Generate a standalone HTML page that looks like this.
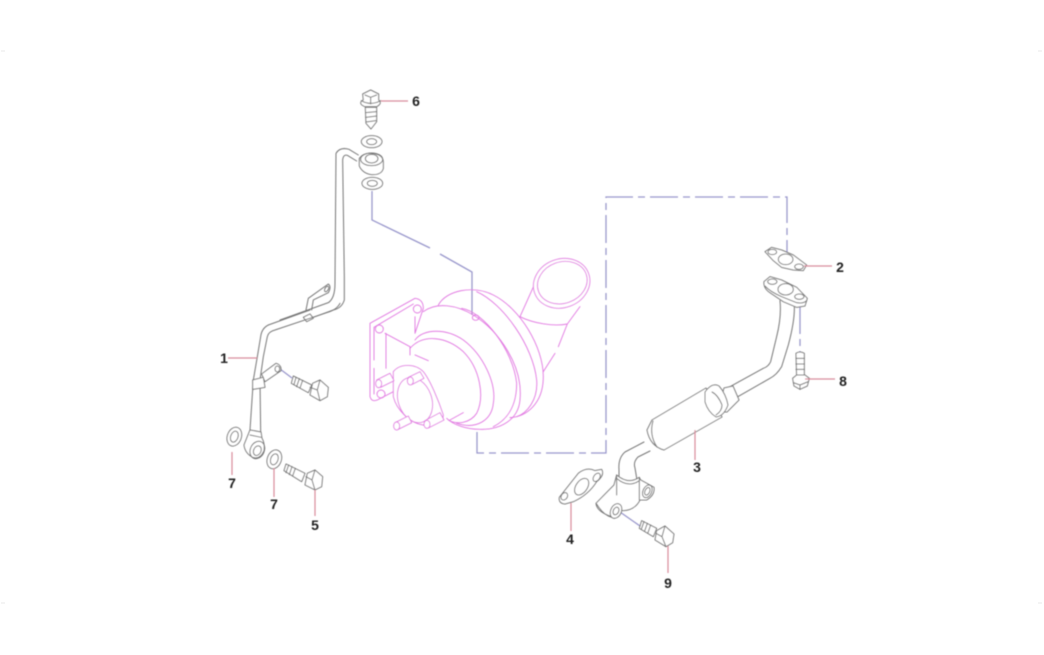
<!DOCTYPE html>
<html><head><meta charset="utf-8"><style>
html,body{margin:0;padding:0;background:#fff}
svg{display:block}
.k{fill:none;stroke:#777;stroke-width:3;stroke-linejoin:round;stroke-linecap:round}
.f{fill:#fff;stroke:#777;stroke-width:3;stroke-linejoin:round}
.g{fill:none;stroke:#777;stroke-width:1;stroke-linejoin:round;stroke-linecap:round}
.gf{fill:#fff;stroke:#777;stroke-width:1;stroke-linejoin:round}
.m{fill:none;stroke:#e27be2;stroke-width:2.8;stroke-linecap:round;stroke-linejoin:round}
.mf{fill:#fff;stroke:#e27be2;stroke-width:2.8;stroke-linejoin:round}
.r{fill:none;stroke:#d98c9c;stroke-width:1.2}
.b{fill:none;stroke:#9a98cc;stroke-width:1.3}
.d{stroke-dasharray:28 5 7 5}
text{font:bold 14px "Liberation Sans",sans-serif;fill:#222;text-anchor:middle}
</style></head><body>
<svg width="1044" height="655" viewBox="0 0 1044 655" xmlns="http://www.w3.org/2000/svg">
<defs><filter id="bl" x="-5%" y="-5%" width="110%" height="110%"><feGaussianBlur stdDeviation="0.45"/></filter></defs>
<rect width="1044" height="655" fill="#fff"/>
<path d="M1 51H5M1 603H5M1038 603H1042M1038 51H1042" stroke="#e8e8e8" stroke-width="1"/>
<g filter="url(#bl)">
<!-- blue centre lines -->
<path class="b" d="M372 191V220L430 248M440 254L472 272V315"/>
<path class="b d" d="M477 432V453H606V197H787V256"/>
<path class="b d" d="M800 306V352"/>
<path class="b" d="M280 369L292 378M620 512L640 526"/>

<!-- turbo -->
<g transform="translate(360,240) scale(.3333)">
<path class="m" d="M30 250L165 175Q190 178 190 205L165 280M30 250V470Q35 487 52 480L100 455M42 262L160 192M42 262V360M42 385V462M78 280V385M75 280L150 320V345M165 230V280"/>
<circle class="m" cx="172" cy="207" r="12"/><circle class="m" cx="58" cy="267" r="12"/><circle class="m" cx="63" cy="462" r="12"/>
<path class="m" d="M235 195C260 150 340 135 400 165C480 205 550 320 550 410C550 490 500 530 450 533"/>
<path class="m" d="M350 155C430 190 520 320 530 420C535 480 500 520 470 530"/>
<path class="m" d="M190 215C230 185 290 195 340 225C420 275 490 380 480 480C475 540 420 570 360 568C320 568 280 555 260 535"/>
<path class="m" d="M305 205C370 215 460 330 470 430C470 500 440 540 400 560"/>
<path class="m" d="M165 300C190 265 260 265 310 300C370 345 410 430 400 490C395 540 350 570 290 550"/>
<path class="m" d="M150 325C190 280 260 290 310 335C360 385 375 470 350 520C330 550 290 555 265 540M270 540L310 518M165 345L205 362"/>
<path class="m" d="M480 230L525 130M660 200L622 252L595 320M585 340L550 395M480 230C520 250 580 260 622 252"/>
<ellipse class="mf" cx="605" cy="130" rx="86" ry="73" transform="rotate(-20 605 130)"/>
<ellipse class="m" cx="607" cy="128" rx="76" ry="62" transform="rotate(-20 607 128)"/>
<ellipse class="m" cx="347" cy="233" rx="10" ry="8"/>
<path class="mf" d="M100 395C120 370 165 370 190 395C210 420 235 480 250 525C250 550 220 550 190 555C150 550 110 510 100 470Z"/>
<ellipse class="m" cx="165" cy="480" rx="50" ry="70" transform="rotate(-20 165 480)"/>
<path class="mf" d="M50 420L90 400L102 422L62 442Z"/><ellipse class="mf" cx="56" cy="431" rx="9" ry="12"/>
<path class="mf" d="M145 412L180 395L192 415L155 434Z"/><ellipse class="mf" cx="151" cy="423" rx="9" ry="12"/>
<path class="mf" d="M105 548L145 528L155 548L115 568Z"/><ellipse class="mf" cx="110" cy="558" rx="9" ry="12"/>
<path class="mf" d="M195 542L240 518L252 540L205 564Z"/><ellipse class="mf" cx="201" cy="553" rx="9" ry="12"/>
</g>

<!-- left pipe, upper and bolt 6 -->
<g transform="translate(200,80) scale(.3333)">
<path class="f" d="M490 60L488 42L512 30L536 42L536 60Q548 70 530 80H495Q472 70 490 60Z"/>
<path class="k" d="M484 62Q512 78 542 62M495 45L512 52L530 45M512 52V72"/>
<path class="f" d="M496 82H530V125L513 147L498 130Z"/>
<path class="k" d="M497 98L530 95M497 112L530 108M498 126L528 122"/>
<ellipse class="f" cx="515" cy="185" rx="31" ry="18"/><ellipse class="k" cx="515" cy="185" rx="15" ry="9"/>
<path class="f" d="M478 235Q490 218 515 220Q548 222 550 245V265Q545 285 515 284Q488 280 478 258Z"/>
<ellipse class="k" cx="515" cy="236" rx="19" ry="13"/>
<ellipse class="k" cx="515" cy="238" rx="33" ry="19"/>
<ellipse class="f" cx="517" cy="310" rx="31" ry="18"/><ellipse class="k" cx="517" cy="310" rx="15" ry="9"/>
<path class="k" d="M475 225L447 208Q420 200 408 220L405 610Q405 655 385 668L240 720"/>
<path class="k" d="M470 243L442 226Q430 222 428 240L433 590V660Q425 685 400 690L340 712"/>
<path class="k" d="M318 690L325 655L385 612Q395 620 385 638L340 660L335 690"/>
<ellipse class="k" cx="380" cy="627" rx="5" ry="9" transform="rotate(30 380 627)"/>
<path class="f" d="M310 712L330 702L340 715L320 725Z"/>
</g>

<!-- left pipe lower -->
<g transform="translate(200,300) scale(.3333)">
<path class="k" d="M330 30L205 75Q185 85 182 110L172 170L160 240L150 390"/>
<path class="k" d="M420 10Q410 30 380 38L225 90Q205 95 202 110L190 170L180 240L182 395"/>
<path class="f" d="M185 222L228 190Q245 195 243 212L195 245Z"/><ellipse class="k" cx="232" cy="207" rx="7" ry="9"/>
<path class="f" d="M158 240L190 232L195 262L158 268Z"/>
<path class="f" d="M150 390L183 396L186 415Q195 430 192 452Q180 480 158 472Q135 460 132 435Z"/>
<path class="k" d="M150 405L183 412"/>
<ellipse class="k" cx="172" cy="450" rx="21" ry="27" transform="rotate(25 172 450)"/>
<ellipse class="k" cx="172" cy="452" rx="11" ry="15" transform="rotate(25 172 452)"/>
<ellipse class="f" cx="103" cy="410" rx="21" ry="29" transform="rotate(20 103 410)"/><ellipse class="k" cx="103" cy="410" rx="11" ry="17" transform="rotate(20 103 410)"/>
<ellipse class="f" cx="223" cy="478" rx="21" ry="29" transform="rotate(20 223 478)"/><ellipse class="k" cx="223" cy="478" rx="11" ry="17" transform="rotate(20 223 478)"/>
<!-- upper bolt -->
<path class="f" d="M280 228L335 255L325 278L274 250Z"/>
<path class="k" d="M288 232L282 254M298 236L290 260M308 241L300 264"/>
<path class="f" d="M338 250L360 240L385 262L382 290L360 302L330 285Z"/>
<path class="k" d="M360 240L352 270L360 302M352 270L330 262"/>
<!-- lower bolt -->
<path class="f" d="M258 492L315 520L305 545L252 512Z"/>
<path class="k" d="M266 495L258 518M276 500L268 524M286 505L278 528"/>
<path class="f" d="M322 520L345 510L368 530L365 560L345 570L315 555Z"/>
<path class="k" d="M345 510L336 540L345 570M336 540L318 530"/>
</g>

<!-- right pipe upper -->
<g transform="translate(600,230) scale(.3333)">
<path class="f" d="M495 65L515 52L545 60L580 75L620 105L610 122L580 120L545 112L520 92Z"/>
<ellipse class="k" cx="517" cy="66" rx="13" ry="8"/><ellipse class="k" cx="557" cy="88" rx="22" ry="16"/><ellipse class="k" cx="597" cy="110" rx="13" ry="8"/>
<path class="k" d="M540 212Q545 260 530 320L512 395Q505 410 490 415L390 470"/>
<path class="k" d="M583 228Q585 270 565 345L545 410Q530 435 510 445L405 505"/>
<path class="f" d="M492 155L510 140L545 150L590 172L622 205L615 228L590 232L550 215L510 188Q490 175 492 155Z"/>
<path class="k" d="M495 168Q510 185 545 200L590 218Q610 222 620 212"/>
<ellipse class="k" cx="517" cy="155" rx="14" ry="8"/><ellipse class="k" cx="557" cy="178" rx="23" ry="17"/><ellipse class="k" cx="598" cy="200" rx="14" ry="8"/>
<path class="f" d="M588 370Q600 362 613 370V440H590Z"/>
<path class="k" d="M588 385H613M588 402H613M588 418H613"/>
<path class="f" d="M578 445L590 435H615L628 445L622 468L600 478L582 468Z"/>
<path class="k" d="M580 458L600 465L625 455M600 465V478"/>
</g>

<!-- muffler -->
<path class="g" d="M644 442L625 452Q618 458 619 470V482M650 451L638 457Q633 462 635 468L637 480"/>
<path class="gf" d="M652 420L706 388L722 417L664 450Q650 446 647 430Z"/>
<path class="g" d="M653 421Q649 435 657 447"/>
<path class="gf" d="M724 388L733 386L739 400L727 412L718 412Z"/>
<path class="gf" d="M705 392Q712 382 719 386Q726 394 728 405Q724 416 716 417Q708 412 705 402Z"/>
<path class="g" d="M712 392Q718 395 722 405Q722 411 716 415"/>

<!-- right pipe lower -->
<g transform="translate(540,400) scale(.3333)">
<path class="f" d="M230 225Q265 255 298 232L302 240L342 262Q345 285 320 300L300 300Q285 330 250 332L235 330L215 350Q170 335 168 310L222 255Z"/>
<path class="k" d="M230 225V285M298 235V300M230 235Q265 265 298 242"/>
<ellipse class="k" cx="322" cy="274" rx="13" ry="20" transform="rotate(25 322 274)"/>
<ellipse class="k" cx="322" cy="274" rx="7" ry="12" transform="rotate(25 322 274)"/>
<ellipse class="f" cx="228" cy="333" rx="16" ry="23" transform="rotate(25 228 333)"/>
<ellipse class="k" cx="228" cy="333" rx="8" ry="12" transform="rotate(25 228 333)"/>
<path class="k" d="M170 312Q190 345 215 352"/>
<path class="f" d="M58 292L115 220Q140 200 165 212L185 208Q195 225 170 245Q145 285 100 305L75 312Q55 310 58 292Z"/>
<ellipse class="k" cx="73" cy="289" rx="9" ry="12" transform="rotate(35 73 289)"/>
<ellipse class="k" cx="125" cy="260" rx="17" ry="28" transform="rotate(35 125 260)"/>
<ellipse class="k" cx="170" cy="232" rx="9" ry="14" transform="rotate(35 170 232)"/>
<path class="f" d="M305 362L350 385L340 410L298 385Z"/>
<path class="k" d="M312 365L304 388M322 370L314 393M332 375L324 398"/>
<path class="f" d="M350 392L375 378L402 402L398 428L378 440L345 420Z"/>
<path class="k" d="M375 378L366 410L378 440M366 410L348 400"/>
</g>

<!-- leader lines -->
<path class="r" d="M381 101H408M228 358H257M232 452V475M274 468V497M315 490V516M804 266H832M805 379H835M695 430V460M571 503V531M668 546V573"/>
<text x="416" y="106">6</text>
<text x="224" y="363">1</text>
<text x="232" y="488">7</text>
<text x="274" y="509">7</text>
<text x="315" y="530">5</text>
<text x="840" y="272">2</text>
<text x="843" y="386">8</text>
<text x="697" y="472">3</text>
<text x="570" y="544">4</text>
<text x="668" y="588">9</text>
</g>
</svg>
</body></html>
